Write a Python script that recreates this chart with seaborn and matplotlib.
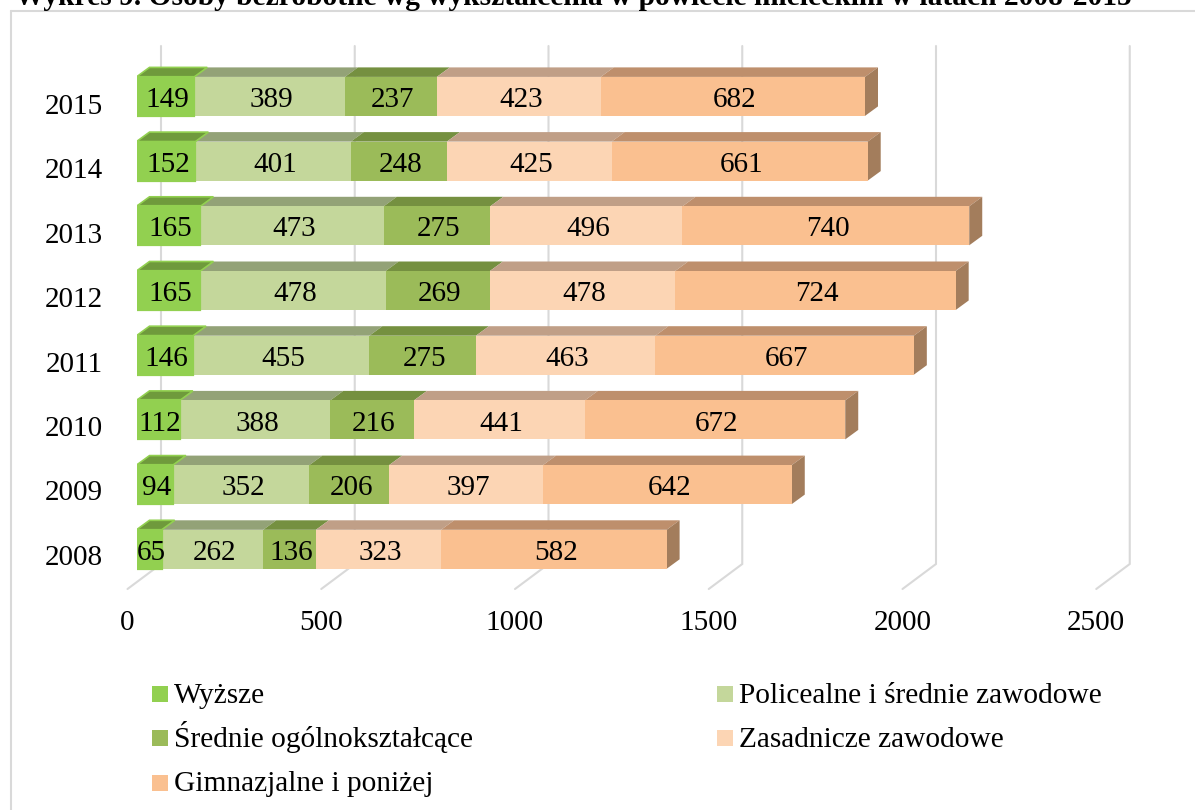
import numpy as np
import matplotlib
matplotlib.use("Agg")
import matplotlib.pyplot as plt
from matplotlib.legend_handler import HandlerLine2D
from matplotlib.lines import Line2D
from matplotlib.patches import Polygon
from matplotlib.transforms import Affine2D
import seaborn as sns

years = ["2015", "2014", "2013", "2012", "2011", "2010", "2009", "2008"]
wyzsze = [149, 152, 165, 165, 146, 112, 94, 65]
policealne = [389, 401, 473, 478, 455, 388, 352, 262]
srednie = [237, 248, 275, 269, 275, 216, 206, 136]
zasadnicze = [423, 425, 496, 478, 463, 441, 397, 323]
gimnazjalne = [682, 661, 740, 724, 667, 672, 642, 582]
series_names = ["Wyższe", "Policealne i średnie zawodowe", "Średnie ogólnokształcące",
                "Zasadnicze zawodowe", "Gimnazjalne i poniżej"]
front_colors = ["#92D050", "#C4D79B", "#9BBB59", "#FCD5B4", "#FAC090"]
top_colors = ["#6F9A3C", "#93A277", "#759040", "#C09F87", "#BE8F6C"]
side_color = "#A37D5C"
x_ticks = [0, 500, 1000, 1500, 2000, 2500]
title_text = "Wykres 9. Osoby bezrobotne wg wykształcenia w powiecie mieleckim w latach 2008-2015"

W, H = 1195, 810
PX_X = 0.3875      # pixels per unit
PX_Y = 64.7        # pixels per category
X0, Y0 = 136.5, 96.4
AX_TOP, AX_BOT = 46, 589
FS = 21

sns.set_theme(style="white")
plt.rcParams["font.family"] = ["Liberation Serif", "DejaVu Serif"]

fig = plt.figure(figsize=(W / 100, H / 100), dpi=100, facecolor="white")
ax = fig.add_axes([X0 / W, 1 - AX_BOT / H, (W - X0) / W, (AX_BOT - AX_TOP) / H])

stack = np.zeros(len(years))
seriess = [wyzsze, policealne, srednie, zasadnicze, gimnazjalne]
for i, (vals, col) in enumerate(zip(seriess, front_colors)):
    sns.barplot(x=vals, y=years, order=years, orient="y", left=stack.copy(), color=col,
                saturation=1, width=39 / PX_Y, errorbar=None, ax=ax,
                zorder=3.2 if i == 0 else 3,
                edgecolor=col if i == 0 else "none", linewidth=1.6 if i == 0 else 0)
    stack = stack + np.array(vals)

ax.set_xlim(0, (W - X0) / PX_X)
ax.set_ylim((AX_BOT - Y0) / PX_Y, (AX_TOP - Y0) / PX_Y)

# 3-D faces, derived from the drawn bars
DX, DY = 13 / PX_X, 9.5 / PX_Y
for i, cont in enumerate(ax.containers):
    for bar in cont:
        x0, x1 = bar.get_x(), bar.get_x() + bar.get_width()
        ya, yb = sorted([bar.get_y(), bar.get_y() + bar.get_height()])
        ax.add_patch(Polygon([(x0, ya), (x1, ya), (x1 + DX, ya - DY), (x0 + DX, ya - DY)],
                             closed=True, facecolor=top_colors[i],
                             edgecolor=front_colors[i] if i == 0 else "none",
                             linewidth=1.2 if i == 0 else 0, zorder=2.7 if i == 0 else 2.6))
        if i == len(ax.containers) - 1:
            ax.add_patch(Polygon([(x1, ya), (x1 + DX, ya - DY), (x1 + DX, yb - DY), (x1, yb)],
                                 closed=True, facecolor=side_color, edgecolor="none", zorder=2.6))
    anns = ax.bar_label(cont, labels=[str(int(b.get_width())) for b in cont],
                        label_type="center", fontsize=FS, color="black", zorder=5)
    for ann in anns:
        ann.xyann = (1.4, -2.6)

# walls and floor gridlines
WALL = 24.5 / PX_X
FRONT = -9 / PX_X
y_wall_bot = (564 - Y0) / PX_Y
y_front = (589 - Y0) / PX_Y
y_top = (AX_TOP - Y0) / PX_Y
for v in x_ticks:
    ax.plot([v + FRONT, v + WALL, v + WALL], [y_front, y_wall_bot, y_top], color="#D9D9D9",
            lw=1.5, zorder=1, clip_on=False, solid_joinstyle="miter")

sns.despine(ax=ax, left=True, bottom=True, top=True, right=True)
ax.set_xlabel("")
ax.set_ylabel("")
ax.set_xticks(x_ticks)
ax.set_xticklabels([str(v) for v in x_ticks])
ax.tick_params(axis="x", length=0, pad=15, labelsize=FS, colors="black")
ax.tick_params(axis="y", length=0, pad=24, labelsize=FS, colors="black")
for lab in ax.get_xticklabels():
    lab.set_transform(lab.get_transform() + Affine2D().translate(-9, 0))
for i, lab in enumerate(ax.get_yticklabels()):
    lab.set_transform(lab.get_transform() + Affine2D().translate(0, -(7.5 - 2 * i / 7)))

# chart frame
for xs, ys in (([11, 11], [-5, H - 11]), ([11, W + 5], [H - 11, H - 11])):
    fig.add_artist(Line2D(np.array(xs) / W, np.array(ys) / H, color="#D9D9D9", lw=1.5))


class LoweredMarker(HandlerLine2D):
    def create_artists(self, legend, orig_handle, xdescent, ydescent, width, height, fontsize, trans):
        return super().create_artists(legend, orig_handle, xdescent, ydescent, width, height,
                                      fontsize, Affine2D().translate(0, -3) + trans)


# legend (column-first order)
order = [0, 2, 4, 1, 3]
handles = [Line2D([], [], marker="s", markersize=11.5, linestyle="none", markeredgewidth=0,
                  markerfacecolor=front_colors[i], label=series_names[i]) for i in order]
fig.legend(handles=handles, ncol=2, loc="upper left", bbox_to_anchor=(152 / W, 1 - 677 / H),
           bbox_transform=fig.transFigure, frameon=False, fontsize=21.2, handlelength=0.56,
           handleheight=1.3, handletextpad=0.19, labelspacing=0.41, columnspacing=8.27,
           borderpad=0, borderaxespad=0, labelcolor="black",
           handler_map={Line2D: LoweredMarker(numpoints=1)})

fig.text(15 / W, 1 - 5 / H, title_text, fontsize=21.25, fontweight="bold", color="black",
         ha="left", va="baseline")

fig.savefig("out.png", dpi=100, facecolor="white")
